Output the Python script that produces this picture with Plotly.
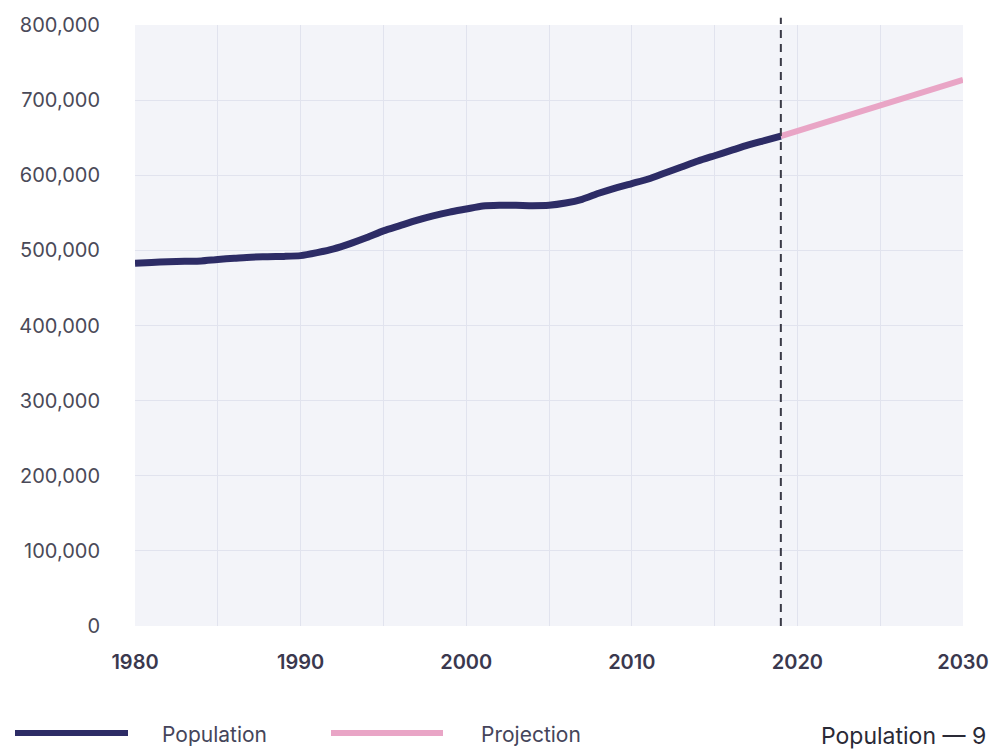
import plotly.graph_objects as go

years = list(range(1980, 2020))
population = [483000, 484000, 485000, 485500, 486000, 488000, 489500, 491000, 491500, 492000,
              493000, 497000, 502000, 509000, 517000, 526000, 533000, 540000, 546000, 551000,
              555000, 559000, 560000, 560000, 559500, 560000, 563000, 568000, 576000, 583000,
              589000, 595000, 603000, 611000, 619000, 626000, 633000, 640000, 646000, 652000]
proj_years = [2019, 2030]
projection = [652000, 727000]
cutoff_year = 2019

W, H = 993, 751
ML, MR, MT, MB = 135, 30, 25, 125
PL, PR, PT, PB = ML, W - MR, MT, H - MB

def px(x):
    return (x - PL) / (PR - PL)

def py(y):
    return (PB - y) / (PB - PT)

NAVY = "#2d2c66"
PINK = "#e9a5c6"

fig = go.Figure()
fig.add_trace(go.Scatter(x=years, y=population, mode="lines", name="Population",
                         line=dict(color=NAVY, width=7, shape="spline", smoothing=0.6)))
fig.add_trace(go.Scatter(x=proj_years, y=projection, mode="lines", name="Projection",
                         line=dict(color=PINK, width=6)))

fig.add_shape(type="line", xref="x", yref="paper", x0=cutoff_year, x1=cutoff_year,
              y0=0, y1=1.012, line=dict(color="#3a3a46", width=2, dash="8px,6px"))

# manual legend
fig.add_shape(type="line", xref="paper", yref="paper", x0=px(15), x1=px(128),
              y0=py(733), y1=py(733), line=dict(color=NAVY, width=6))
fig.add_shape(type="line", xref="paper", yref="paper", x0=px(331), x1=px(443),
              y0=py(733), y1=py(733), line=dict(color=PINK, width=6))
fig.add_annotation(text="Population", xref="paper", yref="paper", x=px(160), y=py(734),
                   xanchor="left", yanchor="middle", showarrow=False,
                   font=dict(family="Inter", size=21, color="#45455a"))
fig.add_annotation(text="Projection", xref="paper", yref="paper", x=px(479), y=py(734),
                   xanchor="left", yanchor="middle", showarrow=False,
                   font=dict(family="Inter", size=21, color="#45455a"))
fig.add_annotation(text="Population — 9", xref="paper", yref="paper", x=px(988), y=py(736),
                   xanchor="right", yanchor="middle", showarrow=False,
                   font=dict(family="Inter", size=23, color="#2a2a36"))

fig.update_layout(
    width=W, height=H,
    margin=dict(l=ML, r=MR, t=MT, b=MB),
    paper_bgcolor="white", plot_bgcolor="#f3f4f9",
    showlegend=False,
    font=dict(family="Inter", color="#45455a"),
)
fig.update_xaxes(range=[1980, 2030], tickmode="linear", tick0=1980, dtick=10,
                 showgrid=True, gridcolor="#e1e3ee", gridwidth=1,
                 minor=dict(dtick=5, tick0=1980, showgrid=True, gridcolor="#e1e3ee", gridwidth=1),
                 zeroline=False, showline=False, ticks="",
                 automargin=False, ticklabeloverflow="allow",
                 ticklabelstandoff=22,
                 tickfont=dict(family="Inter", size=20, color="#3a384e", weight=600))
fig.update_yaxes(range=[0, 800000], tickmode="linear", tick0=0, dtick=100000,
                 tickformat=",d", showgrid=True, gridcolor="#e1e3ee", gridwidth=1,
                 zeroline=False, showline=False, ticks="",
                 automargin=False, ticklabeloverflow="allow",
                 ticklabelstandoff=34,
                 tickfont=dict(family="Inter", size=20, color="#4a4a58"))

fig.write_html("out.html")
